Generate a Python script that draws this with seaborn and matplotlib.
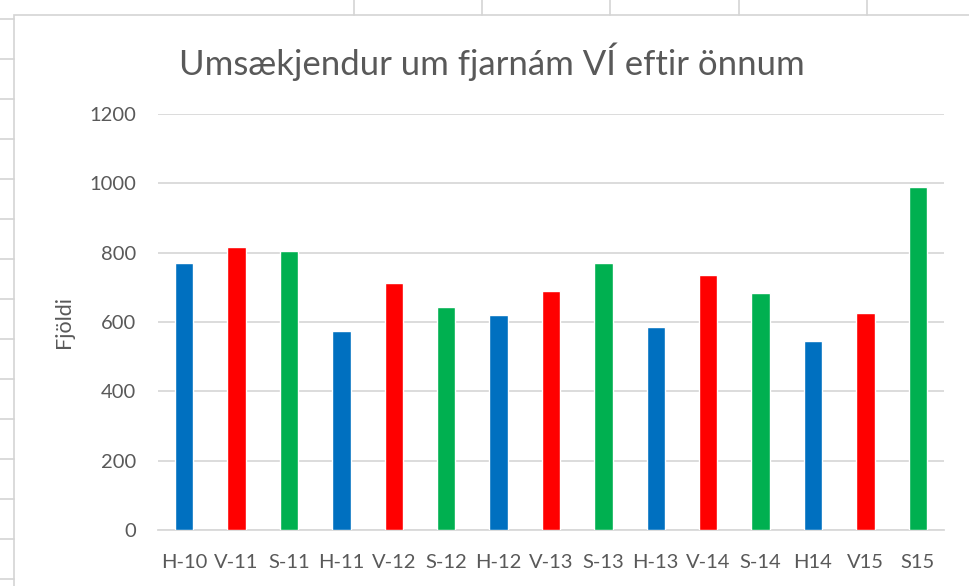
import matplotlib
matplotlib.use("Agg")
import matplotlib.pyplot as plt
from matplotlib.lines import Line2D
from matplotlib.patches import Rectangle
import pandas as pd
import seaborn as sns

# Gögn lesin af myndinni
annir = ["H-10", "V-11", "S-11", "H-11", "V-12", "S-12", "H-12", "V-13",
         "S-13", "H-13", "V-14", "S-14", "H14", "V15", "S15"]
fjoldi = [771, 817, 806, 575, 713, 644, 621, 690, 771, 586, 736, 684, 546, 627, 990]
litir = ["#0070C0", "#FF0000", "#00B050"] * 5

sns.set_theme(style="white")
plt.rcParams["font.family"] = ["Lato", "DejaVu Sans"]

W, H = 969, 586
fig = plt.figure(figsize=(W / 100, H / 100), dpi=100)

# Excel-rammi og reitalínur utan við myndritið
grid_col = "#D4D4D4"
fig.add_artist(Rectangle((14 / W, -0.1), 1.1, 1 - 15 / H + 0.1, transform=fig.transFigure,
                         facecolor="white", edgecolor=grid_col, linewidth=1.2, zorder=0))
for x in [354, 482, 610, 739, 867]:
    fig.add_artist(Line2D([x / W, x / W], [1, 1 - 15 / H], transform=fig.transFigure,
                          color=grid_col, linewidth=1.2))
for y in range(19, 586, 40):
    fig.add_artist(Line2D([0, 14 / W], [1 - y / H, 1 - y / H], transform=fig.transFigure,
                          color=grid_col, linewidth=1.2))

ax = fig.add_axes([158 / W, 1 - 530 / H, (944 - 158) / W, (530 - 114) / H])
df = pd.DataFrame({"Önn": annir, "Fjöldi": fjoldi})
sns.barplot(data=df, x="Önn", y="Fjöldi", hue="Önn", palette=litir,
            width=0.35, legend=False, saturation=1, ax=ax, zorder=3)

ax.set_ylim(0, 1200)
ax.set_yticks(range(0, 1201, 200))
ax.set_xlim(-0.5, len(annir) - 0.5)
ax.grid(axis="y", color="#D9D9D9", linewidth=1.3, zorder=0)
ax.set_axisbelow(True)
for s in ["top", "right", "left"]:
    ax.spines[s].set_visible(False)
ax.spines["bottom"].set_color("#D9D9D9")
ax.spines["bottom"].set_linewidth(1.3)
ax.tick_params(axis="both", length=0, labelsize=14.5, colors="#595959")
ax.tick_params(axis="y", pad=16)
ax.tick_params(axis="x", pad=17)
ax.set_xlabel("")
ax.set_ylabel("Fjöldi", fontsize=15.5, color="#595959", labelpad=11)

fig.text(492 / W, 1 - 62 / H, "Umsækjendur um fjarnám VÍ eftir önnum",
         ha="center", va="center", fontsize=25, color="#595959")

fig.savefig("out.png", dpi=100)
